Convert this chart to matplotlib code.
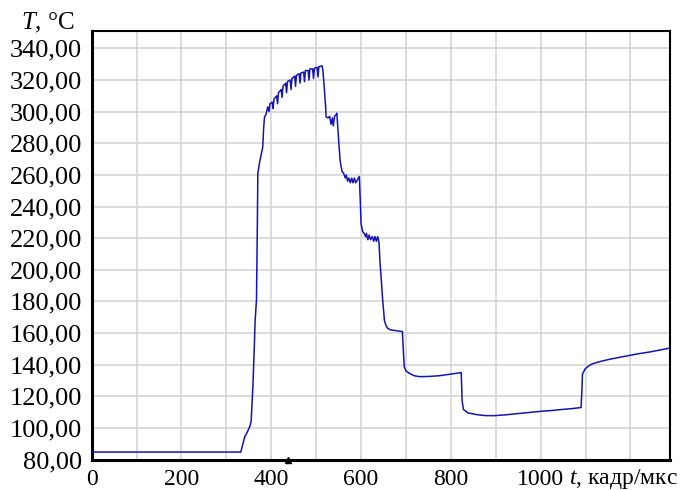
import matplotlib
matplotlib.use('Agg')
import matplotlib.pyplot as plt

t = [0, 332, 335, 341, 346, 352, 355, 357, 359, 362, 364, 367, 369, 370, 374, 381, 383, 385, 388,
     392, 395, 397, 402, 404, 406, 412, 414, 416, 422, 424, 426, 432, 434, 436, 442, 444, 446,
     452, 454, 456, 462, 464, 466, 472, 474, 476, 482, 484, 486, 492, 494, 496, 502, 504, 506,
     511, 513, 515, 518, 521, 522, 526, 530, 533, 536, 538, 541, 544, 546, 548, 550, 553, 555.5,
     558, 561, 565, 567, 570, 573, 576, 579, 582, 585, 588, 592, 596, 598, 600, 603.6, 607, 610,
     612, 615, 618, 621, 625, 628, 631, 634, 637, 640, 642, 644, 648, 652, 655, 659, 665, 678,
     692, 694, 696, 700, 707, 718, 730, 750, 774, 800, 823, 825, 828, 838, 857, 875, 895, 920,
     940, 970, 1001, 1025, 1046, 1070, 1088, 1090, 1092, 1093, 1099, 1106, 1114, 1130, 1152,
     1175, 1197, 1220, 1243, 1265, 1288]
T = [84.7, 84.7, 88, 94.5, 97, 100.8, 104, 115, 126, 150, 168, 181, 230, 261, 268, 277.7, 290, 296.7, 298,
     303, 300, 305, 306, 302, 308, 310, 305, 312, 314, 309, 316, 318, 312, 319, 320, 314, 321,
     322.5, 316, 323, 324, 318, 324.5, 325, 319, 326, 326, 320, 327, 327, 321, 327.5, 328, 322, 328.5,
     328.7, 329, 326, 315, 303, 296.7, 296, 297, 292, 296, 291, 297, 298, 299, 290, 282, 270, 265,
     262, 261, 258, 260, 256, 258, 255, 258, 255, 258, 255, 257, 259, 245, 229, 224, 223, 221,
     223, 219, 222, 219, 221, 218, 221, 218, 221, 217, 205, 197.7, 181, 168, 165, 163, 162, 161.5,
     160.9, 150, 138.8, 136, 134.6, 133, 132.4, 132.5, 133, 134, 135, 117, 111.6, 109.5, 108.4, 107.8, 107.7, 108.2,
     108.8, 109.6, 110.5, 111, 111.6, 112.2, 112.8, 113, 125, 134, 137.3, 139, 140.4, 141.8, 143.3,
     144.6, 145.8, 147, 148, 149.2, 150.5]

marker_t = [437]
xticks = [0, 200, 400, 600, 800, 1000]
yticks = list(range(80, 341, 20))

plt.rcParams['font.family'] = 'Liberation Serif'
plt.rcParams['mathtext.fontset'] = 'custom'
plt.rcParams['mathtext.rm'] = 'Liberation Serif'
plt.rcParams['mathtext.it'] = 'Liberation Serif:italic'

fig = plt.figure(figsize=(6.96, 4.90), dpi=100)
ax = fig.add_axes([91.7/696, 1 - 459.5/490, (670 - 91.7)/696, (459.5 - 31)/490])

ax.plot(t, T, color='#1414b4', lw=1.1, zorder=3)
ax.plot(marker_t, [80] * len(marker_t), marker='^', color='k', ms=5, ls='none', clip_on=False, zorder=4)

ax.set_xlim(0, 1288)
ax.set_ylim(80, 351)
grid_x = list(range(0, 1288, 100))
ax.set_xticks(grid_x)
ax.set_xticklabels([str(v) if v in xticks else '' for v in grid_x])
ax.set_yticks(yticks)
ax.set_yticklabels(['{},00'.format(v) for v in yticks])
ax.tick_params(axis='x', length=0, pad=7, labelsize=17)
ax.tick_params(axis='y', length=0, pad=7, labelsize=19)
ax.grid(True, color='#d2d2d2', lw=1.1)
ax.set_axisbelow(True)

ax.spines['left'].set_linewidth(2.2)
ax.spines['bottom'].set_linewidth(2.2)
ax.spines['top'].set_linewidth(1.5)
ax.spines['right'].set_linewidth(1.5)

fig.text(21/696, 1 - 23/490, '$T$, °C', fontsize=18, ha='left', va='center')
fig.text(569/696, 1 - 484/490, '$t$, кадр/мкс', fontsize=17, ha='left', va='baseline')

plt.savefig('out.png', dpi=100)
